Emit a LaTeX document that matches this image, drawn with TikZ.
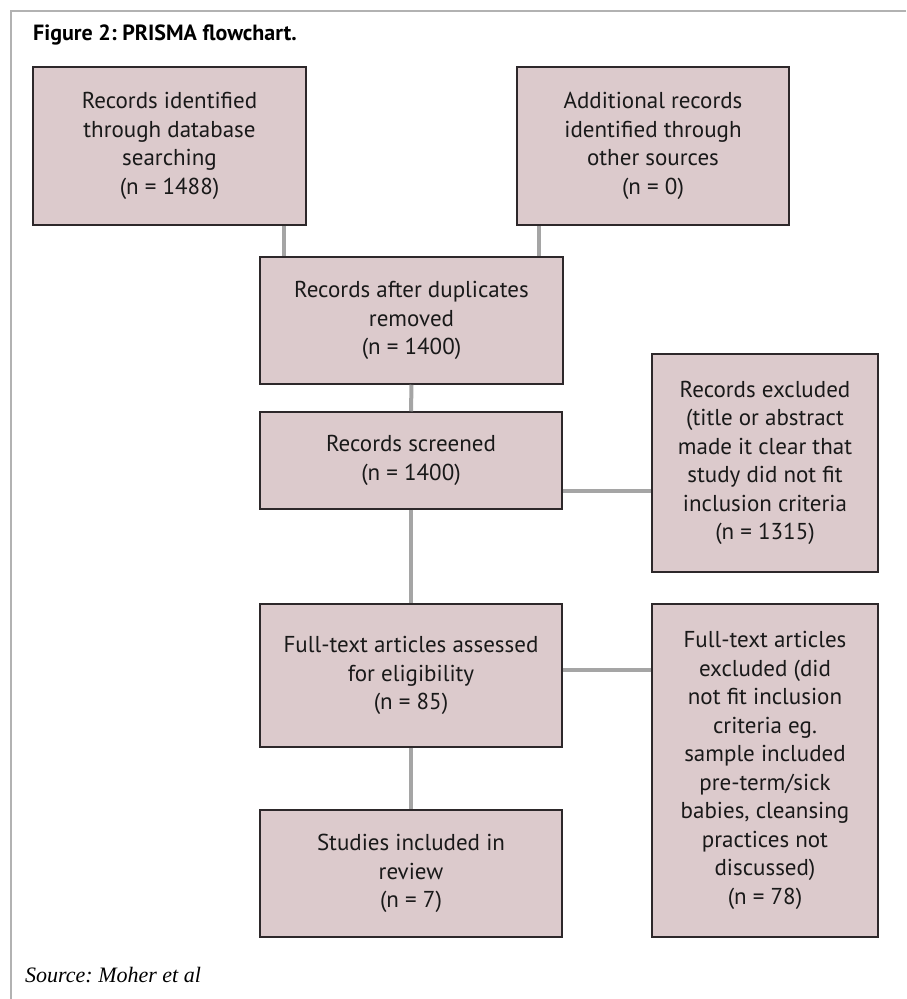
\documentclass[tikz,border=0pt]{standalone}
\usepackage{fontspec}
\setmainfont{PT Sans}
\newfontfamily\srcfont{Liberation Serif}
\definecolor{boxfill}{RGB}{220,202,204}
\definecolor{boxline}{RGB}{45,40,42}
\definecolor{conn}{RGB}{165,165,165}
\definecolor{frame}{RGB}{178,178,178}
\frenchspacing
\begin{document}
\begin{tikzpicture}[x=1pt,y=-1pt,
  flowbox/.style={draw=boxline,line width=1.5pt,fill=boxfill,rectangle,align=center,
    inner sep=0pt,font=\fontsize{23}{28.5}\selectfont,text=black!90},
  link/.style={draw=conn,line width=4pt}]
\useasboundingbox (0,0) rectangle (906,999);
\draw[frame,line width=2pt] (906,11) -- (11,11) -- (11,999);
\node[anchor=base west,font=\fontsize{22}{24}\selectfont\bfseries,inner sep=0pt] (title) at (33,40) {Figure 2: PRISMA flowchart.};
\node[anchor=base west,font=\fontsize{22}{24}\selectfont\srcfont\itshape,inner sep=0pt] (src) at (25,982) {Source: Moher et al};
% boxes: centers from pixel edges
\node[flowbox,minimum width=273pt,minimum height=158pt] (A) at (169.5,146) {Records identified\\through database\\searching\\(n = 1488)};
\node[flowbox,minimum width=272pt,minimum height=158pt] (B) at (653,146) {Additional records\\identified through\\other sources\\(n = 0)};
\node[flowbox,minimum width=303pt,minimum height=127pt] (C) at (411.5,320.5) {Records after duplicates\\removed\\(n = 1400)};
\node[flowbox,minimum width=302pt,minimum height=97pt] (D) at (411,460.5) {Records screened\\(n = 1400)};
\node[flowbox,minimum width=226pt,minimum height=218pt] (E) at (765,463) {Records excluded\\(title or abstract\\made it clear that\\study did not fit\\inclusion criteria\\(n = 1315)};
\node[flowbox,minimum width=302pt,minimum height=143pt] (F) at (411,675.5) {Full-text articles assessed\\for eligibility\\(n = 85)};
\node[flowbox,minimum width=226pt,minimum height=333pt] (G) at (765,770.5) {Full-text articles\\excluded (did\\not fit inclusion\\criteria eg.\\sample included\\pre-term/sick\\babies, cleansing\\practices not\\discussed)\\(n = 78)};
\node[flowbox,minimum width=302pt,minimum height=127pt] (H) at (411,873.5) {Studies included in\\review\\(n = 7)};
% connector guide coordinates
\coordinate (xa) at (284,0);
\coordinate (xb) at (539,0);
\coordinate (yde) at (0,491);
\coordinate (yfg) at (0,670);
\draw[link] (A.south -| xa) -- (C.north -| xa);
\draw[link] (B.south -| xb) -- (C.north -| xb);
\draw[link] (C.south) -- (D.north);
\draw[link] (D.east |- yde) -- (E.west |- yde);
\draw[link] (D.south) -- (F.north);
\draw[link] (F.east |- yfg) -- (G.west |- yfg);
\draw[link] (F.south) -- (H.north);
\end{tikzpicture}
\end{document}
